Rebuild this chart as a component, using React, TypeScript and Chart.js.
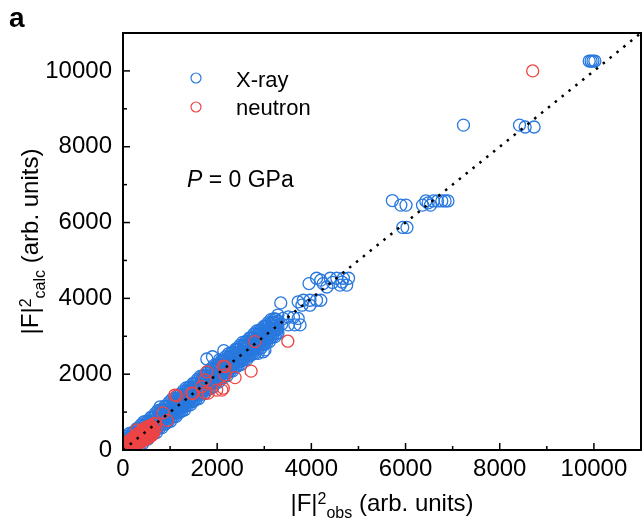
import React, { useEffect, useRef } from 'react';
import { Chart, registerables } from 'chart.js';

Chart.register(...registerables);

const AXIS_MIN = 0;
const AXIS_MAX = 11000;
const MAJOR_TICKS = [0, 2000, 4000, 6000, 8000, 10000];
const MINOR_TICKS = [1000, 3000, 5000, 7000, 9000];
const IDEAL_LINE: [number, number][] = [[0, 0], [11000, 11000]];

// X-ray reflections: [|F|^2 obs, |F|^2 calc] — dense band (upper edge)
const XRAY_BAND_A: [number, number][] = [
  [20, 260], [50, 240], [80, 360], [110, 330], [140, 440], [170, 370], [200, 460], [230, 460], [260, 440], [290, 560],
  [320, 560], [350, 540], [380, 660], [410, 630], [440, 740], [470, 670], [500, 760], [530, 760], [560, 740], [590, 860],
  [620, 860], [650, 840], [680, 960], [710, 930], [740, 1040], [770, 970], [800, 1060], [830, 1060], [860, 1040], [890, 1160],
  [920, 1160], [950, 1140], [980, 1260], [1010, 1230], [1040, 1340], [1070, 1270], [1100, 1360], [1130, 1360], [1160, 1340], [1190, 1460],
  [1220, 1460], [1250, 1440], [1280, 1560], [1310, 1530], [1340, 1640], [1370, 1570], [1400, 1660], [1430, 1660], [1460, 1640], [1490, 1760],
  [1520, 1760], [1550, 1740], [1580, 1860], [1610, 1830], [1640, 1940], [1670, 1870], [1700, 1960], [1730, 1960], [1760, 1940], [1790, 2060],
  [1820, 2060], [1850, 2040], [1880, 2160], [1910, 2130], [1940, 2240], [1970, 2170], [2000, 2260], [2030, 2260], [2060, 2240], [2090, 2360],
  [2120, 2360], [2150, 2340], [2180, 2460], [2210, 2430], [2240, 2540], [2270, 2470], [2300, 2560], [2330, 2560], [2360, 2540], [2390, 2660],
  [2420, 2660], [2450, 2640], [2480, 2760], [2510, 2730], [2540, 2840], [2570, 2770], [2600, 2860], [2630, 2860], [2660, 2840], [2690, 2960],
  [2720, 2960], [2750, 2940], [2780, 3060], [2810, 3030], [2840, 3140], [2870, 3070], [2900, 3160], [2930, 3160], [2960, 3140], [2990, 3260],
  [3020, 3260], [3050, 3240], [3080, 3360], [3110, 3330], [3140, 3440], [3170, 3370], [3200, 3460], [3230, 3460], [3260, 3440], [3290, 3560],
];

// dense band (middle, above the diagonal)
const XRAY_BAND_B: [number, number][] = [
  [20, 110], [50, 180], [80, 130], [110, 220], [140, 210], [170, 310], [200, 260], [230, 350], [260, 300], [290, 390],
  [320, 410], [350, 480], [380, 430], [410, 520], [440, 510], [470, 610], [500, 560], [530, 650], [560, 600], [590, 690],
  [620, 710], [650, 780], [680, 730], [710, 820], [740, 810], [770, 910], [800, 860], [830, 950], [860, 900], [890, 990],
  [920, 1010], [950, 1080], [980, 1030], [1010, 1120], [1040, 1110], [1070, 1210], [1100, 1160], [1130, 1250], [1160, 1200], [1190, 1290],
  [1220, 1310], [1250, 1380], [1280, 1330], [1310, 1420], [1340, 1410], [1370, 1510], [1400, 1460], [1430, 1550], [1460, 1500], [1490, 1590],
  [1520, 1610], [1550, 1680], [1580, 1630], [1610, 1720], [1640, 1710], [1670, 1810], [1700, 1760], [1730, 1850], [1760, 1800], [1790, 1890],
  [1820, 1910], [1850, 1980], [1880, 1930], [1910, 2020], [1940, 2010], [1970, 2110], [2000, 2060], [2030, 2150], [2060, 2100], [2090, 2190],
  [2120, 2210], [2150, 2280], [2180, 2230], [2210, 2320], [2240, 2310], [2270, 2410], [2300, 2360], [2330, 2450], [2360, 2400], [2390, 2490],
  [2420, 2510], [2450, 2580], [2480, 2530], [2510, 2620], [2540, 2610], [2570, 2710], [2600, 2660], [2630, 2750], [2660, 2700], [2690, 2790],
  [2720, 2810], [2750, 2880], [2780, 2830], [2810, 2920], [2840, 2910], [2870, 3010], [2900, 2960], [2930, 3050], [2960, 3000], [2990, 3090],
  [3020, 3110], [3050, 3180], [3080, 3130], [3110, 3220], [3140, 3210], [3170, 3310], [3200, 3260], [3230, 3350], [3260, 3300], [3290, 3390],
];

// dense band (middle, below the diagonal)
const XRAY_BAND_C: [number, number][] = [
  [20, 10], [50, 20], [80, 70], [110, 50], [140, 40], [170, 150], [200, 130], [230, 200], [260, 170], [290, 240],
  [320, 280], [350, 270], [380, 370], [410, 350], [440, 340], [470, 450], [500, 430], [530, 500], [560, 470], [590, 540],
  [620, 580], [650, 570], [680, 670], [710, 650], [740, 640], [770, 750], [800, 730], [830, 800], [860, 770], [890, 840],
  [920, 880], [950, 870], [980, 970], [1010, 950], [1040, 940], [1070, 1050], [1100, 1030], [1130, 1100], [1160, 1070], [1190, 1140],
  [1220, 1180], [1250, 1170], [1280, 1270], [1310, 1250], [1340, 1240], [1370, 1350], [1400, 1330], [1430, 1400], [1460, 1370], [1490, 1440],
  [1520, 1480], [1550, 1470], [1580, 1570], [1610, 1550], [1640, 1540], [1670, 1650], [1700, 1630], [1730, 1700], [1760, 1670], [1790, 1740],
  [1820, 1780], [1850, 1770], [1880, 1870], [1910, 1850], [1940, 1840], [1970, 1950], [2000, 1930], [2030, 2000], [2060, 1970], [2090, 2040],
  [2120, 2080], [2150, 2070], [2180, 2170], [2210, 2150], [2240, 2140], [2270, 2250], [2300, 2230], [2330, 2300], [2360, 2270], [2390, 2340],
  [2420, 2380], [2450, 2370], [2480, 2470], [2510, 2450], [2540, 2440], [2570, 2550], [2600, 2530], [2630, 2600], [2660, 2570], [2690, 2640],
  [2720, 2680], [2750, 2670], [2780, 2770], [2810, 2750], [2840, 2740], [2870, 2850], [2900, 2830], [2930, 2900], [2960, 2870], [2990, 2940],
  [3020, 2980], [3050, 2970], [3080, 3070], [3110, 3050], [3140, 3040], [3170, 3150], [3200, 3130], [3230, 3200], [3260, 3170], [3290, 3240],
];

// dense band (lower edge)
const XRAY_BAND_D: [number, number][] = [
  [200, 70], [260, 90], [290, 80],
  [320, 140], [350, 130], [380, 240], [410, 160], [440, 280], [470, 270], [500, 370], [530, 290], [560, 390], [590, 380],
  [620, 440], [650, 430], [680, 540], [710, 460], [740, 580], [770, 570], [800, 670], [830, 590], [860, 690], [890, 680],
  [920, 740], [950, 730], [980, 840], [1010, 760], [1040, 880], [1070, 870], [1100, 970], [1130, 890], [1160, 990], [1190, 980],
  [1220, 1040], [1250, 1030], [1280, 1140], [1310, 1060], [1340, 1180], [1370, 1170], [1400, 1270], [1430, 1190], [1460, 1290], [1490, 1280],
  [1520, 1340], [1550, 1330], [1580, 1440], [1610, 1360], [1640, 1480], [1670, 1470], [1700, 1570], [1730, 1490], [1760, 1590], [1790, 1580],
  [1820, 1640], [1850, 1630], [1880, 1740], [1910, 1660], [1940, 1780], [1970, 1770], [2000, 1870], [2030, 1790], [2060, 1890], [2090, 1880],
  [2120, 1940], [2150, 1930], [2180, 2040], [2210, 1960], [2240, 2080], [2270, 2070], [2300, 2170], [2330, 2090], [2360, 2190], [2390, 2180],
  [2420, 2240], [2450, 2230], [2480, 2340], [2510, 2260], [2540, 2380], [2570, 2370], [2600, 2470], [2630, 2390], [2660, 2490], [2690, 2480],
  [2720, 2540], [2750, 2530], [2780, 2640], [2810, 2560], [2840, 2680], [2870, 2670], [2900, 2770], [2930, 2690], [2960, 2790], [2990, 2780],
  [3020, 2840], [3050, 2830], [3080, 2940], [3110, 2860], [3140, 2980], [3170, 2970], [3200, 3070], [3230, 2990], [3260, 3090], [3290, 3080],
];

// sparse / stronger X-ray reflections
const XRAY_SPARSE: [number, number][] = [
  [790, 1140], [1780, 2400], [1900, 2460], [2050, 2380], [2140, 2620], [2870, 2550], [2980, 2590], [3015, 2640],
  [3370, 3320], [3400, 3470], [3510, 3510], [3510, 3300], [3620, 3500], [3650, 3300], [3720, 3470], [3760, 3300],
  [3350, 3880], [3720, 3910], [3800, 3820], [3830, 3950], [3970, 3950], [3970, 3820], [4110, 3950], [4200, 3950],
  [3950, 4390], [4110, 4530], [4250, 4390], [4330, 4300], [4400, 4530], [4450, 4420], [4540, 4530], [4610, 4350],
  [4680, 4530], [4750, 4350], [4790, 4530], [4200, 4480], [4650, 4430],
  [5720, 6580], [5900, 6460], [6010, 6460], [5940, 5870], [6030, 5870], [6360, 6460], [6430, 6570], [6480, 6520],
  [6530, 6460], [6590, 6570], [6680, 6570], [6770, 6570], [6840, 6570], [6900, 6570],
  [7230, 8570], [8420, 8570], [8540, 8520], [8730, 8520],
  [9900, 10260], [9940, 10260], [9980, 10260], [10020, 10260],
];

// Neutron reflections: [|F|^2 obs, |F|^2 calc]
const NEUTRON_DATA: [number, number][] = [
  [10, 60], [30, 120], [50, 40], [70, 170], [90, 90], [110, 220], [130, 60], [150, 260], [170, 150], [190, 300],
  [210, 110], [230, 330], [250, 200], [270, 380], [290, 160], [310, 420], [330, 260], [350, 460], [370, 210], [390, 500],
  [410, 310], [430, 540], [450, 260], [470, 580], [490, 360], [510, 600], [530, 310], [550, 620], [570, 420], [590, 650],
  [610, 380], [630, 560], [650, 480], [670, 700],
  [20, 40], [40, 100], [60, 20], [80, 170], [100, 70], [120, 230], [140, 130], [160, 30], [180, 280], [200, 180],
  [220, 90], [240, 330], [260, 230], [280, 140], [300, 390], [320, 280], [340, 190], [360, 440], [380, 320], [400, 220],
  [420, 490], [440, 370], [460, 270], [480, 540], [500, 420], [520, 320], [540, 590], [560, 470], [580, 380], [600, 630],
  [620, 520], [650, 450], [680, 680], [700, 580], [290, 530], [500, 530], [540, 530],
  [850, 980], [940, 780], [1100, 1450], [1140, 1430], [1460, 1500], [1480, 1490], [1670, 1670], [1740, 1850], [1740, 1500],
  [1780, 2060], [1810, 1500], [1990, 1580], [2100, 1580], [2130, 1630], [2130, 2210], [2170, 1980], [2170, 2200],
  [2380, 1910], [2720, 2080], [2800, 2860], [3500, 2870], [8700, 10000],
];

const XRAY_COLOR = '#2878DE';
const NEUTRON_COLOR = '#EE4444';
const FONT = "'Liberation Sans', Arial, sans-serif";

type Seg = { t: string; size: number; dy: number; italic?: boolean };

function drawRich(ctx: CanvasRenderingContext2D, segs: Seg[], x: number, y: number, align: 'left' | 'center') {
  let total = 0;
  const widths = segs.map((s) => {
    ctx.font = `${s.italic ? 'italic ' : ''}${s.size}px ${FONT}`;
    const w = ctx.measureText(s.t).width;
    total += w;
    return w;
  });
  let cx = align === 'center' ? x - total / 2 : x;
  ctx.textAlign = 'left';
  ctx.textBaseline = 'alphabetic';
  segs.forEach((s, i) => {
    ctx.font = `${s.italic ? 'italic ' : ''}${s.size}px ${FONT}`;
    ctx.fillText(s.t, cx, y + s.dy);
    cx += widths[i];
  });
}

const decorPlugin = {
  id: 'decor',
  afterDatasetsDraw(chart: any) {
    const { ctx, chartArea: a, scales } = chart;
    const xs = scales.x;
    const ys = scales.y;
    ctx.save();
    ctx.strokeStyle = '#000';
    ctx.lineWidth = 1.5;
    const tick = (x1: number, y1: number, x2: number, y2: number) => {
      ctx.beginPath();
      ctx.moveTo(x1, y1);
      ctx.lineTo(x2, y2);
      ctx.stroke();
    };
    MAJOR_TICKS.forEach((v) => {
      const px = xs.getPixelForValue(v);
      tick(px, a.bottom, px, a.bottom - 7);
      const py = ys.getPixelForValue(v);
      tick(a.left, py, a.left + 7, py);
    });
    MINOR_TICKS.forEach((v) => {
      const px = xs.getPixelForValue(v);
      tick(px, a.bottom, px, a.bottom - 4);
      const py = ys.getPixelForValue(v);
      tick(a.left, py, a.left + 4, py);
    });
    ctx.lineWidth = 2;
    ctx.strokeRect(a.left, a.top, a.right - a.left, a.bottom - a.top);
    ctx.restore();
  },
  afterDraw(chart: any) {
    const { ctx, chartArea: a } = chart;
    ctx.save();
    ctx.fillStyle = '#000';
    ctx.font = `bold 28px ${FONT}`;
    ctx.textAlign = 'left';
    ctx.textBaseline = 'alphabetic';
    ctx.fillText('a', 9, 27);

    ctx.lineWidth = 1.2;
    ctx.strokeStyle = XRAY_COLOR;
    ctx.beginPath();
    ctx.arc(196, 78, 5, 0, Math.PI * 2);
    ctx.stroke();
    ctx.strokeStyle = NEUTRON_COLOR;
    ctx.beginPath();
    ctx.arc(196, 107, 5, 0, Math.PI * 2);
    ctx.stroke();
    ctx.font = `22px ${FONT}`;
    ctx.fillText('X-ray', 236, 87);
    ctx.fillText('neutron', 236, 115);

    drawRich(ctx, [
      { t: 'P', size: 23, dy: 0, italic: true },
      { t: ' = 0 GPa', size: 23, dy: 0 },
    ], 187, 187, 'left');

    drawRich(ctx, [
      { t: '|F|', size: 24, dy: 0 },
      { t: '2', size: 16, dy: -7 },
      { t: 'obs', size: 16, dy: 7 },
      { t: ' (arb. units)', size: 24, dy: 0 },
    ], (a.left + a.right) / 2, 511, 'center');

    ctx.translate(38, (a.top + a.bottom) / 2);
    ctx.rotate(-Math.PI / 2);
    drawRich(ctx, [
      { t: '|F|', size: 24, dy: 0 },
      { t: '2', size: 16, dy: -7 },
      { t: 'calc', size: 16, dy: 7 },
      { t: ' (arb. units)', size: 24, dy: 0 },
    ], 0, 0, 'center');
    ctx.restore();
  },
};

export default function App() {
  const canvasRef = useRef<HTMLCanvasElement | null>(null);

  useEffect(() => {
    const canvas = canvasRef.current;
    if (!canvas) return;
    const toPts = (arr: [number, number][]) => arr.map(([x, y]) => ({ x, y }));
    const xray = [...XRAY_BAND_A, ...XRAY_BAND_B, ...XRAY_BAND_C, ...XRAY_BAND_D, ...XRAY_SPARSE];
    const chart = new Chart(canvas, {
      type: 'scatter',
      data: {
        datasets: [
          {
            type: 'line',
            label: 'y = x',
            data: toPts(IDEAL_LINE),
            borderColor: '#000',
            borderWidth: 2.5,
            borderDash: [2.5, 6.3],
            pointRadius: 0,
            fill: false,
            order: 0,
          } as any,
          {
            label: 'neutron',
            data: toPts(NEUTRON_DATA),
            borderColor: NEUTRON_COLOR,
            backgroundColor: 'rgba(0,0,0,0)',
            borderWidth: 1.3,
            pointRadius: 6,
            pointHoverRadius: 6,
            order: 1,
            clip: 0,
          },
          {
            label: 'X-ray',
            data: toPts(xray),
            borderColor: XRAY_COLOR,
            backgroundColor: 'rgba(0,0,0,0)',
            borderWidth: 1.3,
            pointRadius: 6,
            pointHoverRadius: 6,
            order: 2,
            clip: 0,
          },
        ],
      },
      options: {
        responsive: false,
        animation: false,
        devicePixelRatio: 1,
        layout: { autoPadding: false, padding: { top: 33, right: 2, left: 0, bottom: 0 } },
        plugins: {
          legend: { display: false },
          tooltip: { enabled: false },
        },
        scales: {
          x: {
            type: 'linear',
            min: AXIS_MIN,
            max: AXIS_MAX,
            grid: { display: false, drawTicks: false },
            border: { display: false },
            afterFit: (s: any) => { s.height = 69; s.paddingLeft = 0; s.paddingRight = 0; },
            afterBuildTicks: (s: any) => { s.ticks = MAJOR_TICKS.map((v) => ({ value: v })); },
            ticks: {
              padding: 5,
              color: '#000',
              font: { family: FONT, size: 24 },
              maxRotation: 0,
              callback: (v: any) => String(v),
            },
          },
          y: {
            type: 'linear',
            min: AXIS_MIN,
            max: AXIS_MAX,
            grid: { display: false, drawTicks: false },
            border: { display: false },
            afterFit: (s: any) => { s.width = 123; s.paddingTop = 0; s.paddingBottom = 0; },
            afterBuildTicks: (s: any) => { s.ticks = MAJOR_TICKS.map((v) => ({ value: v })); },
            ticks: {
              padding: 11,
              color: '#000',
              font: { family: FONT, size: 24 },
              callback: (v: any) => String(v),
            },
          },
        },
      },
      plugins: [decorPlugin],
    });
    return () => chart.destroy();
  }, []);

  return (
    <div style={{ position: 'absolute', left: 0, top: 0, width: 643, height: 519, background: '#fff' }}>
      <canvas ref={canvasRef} width={643} height={519} style={{ display: 'block' }} />
    </div>
  );
}
